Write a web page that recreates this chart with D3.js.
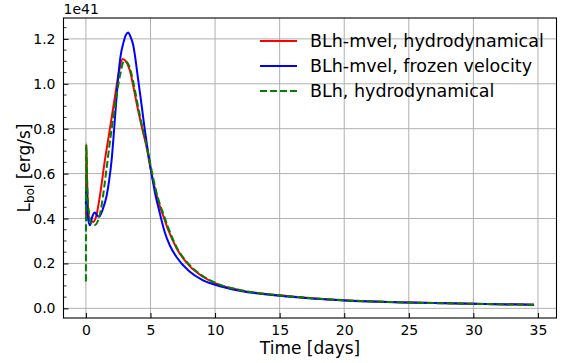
<!DOCTYPE html>
<html>
<head>
<meta charset="utf-8">
<script src="https://cdn.jsdelivr.net/npm/d3@7"></script>
<style>
  body { margin: 0; background: #fff; }
  text { font-family: "DejaVu Sans", sans-serif; fill: #000; }
</style>
</head>
<body>
<svg id="chart" width="564" height="363"></svg>
<script>
const width = 564
const height = 363
const margin = { top: 18, right: 7.5, bottom: 45, left: 63.5 }

// BLh-mvel, hydrodynamical (red)
const redT = [0, 0.03, 0.1, 0.2, 0.35, 0.56, 0.8, 1.08, 1.47, 1.86, 2.24, 2.55, 2.84, 3.1, 3.4, 3.7, 4.05, 4.4, 4.69, 5.08, 5.4, 5.72, 6.0, 6.37, 7.0, 8.0, 9.0, 10, 12, 15, 17.5, 20, 25, 30, 34.7]
const redL = [0.40, 0.73, 0.55, 0.42, 0.39, 0.385, 0.41, 0.50, 0.66, 0.80, 0.94, 1.05, 1.11, 1.10, 1.06, 0.98, 0.88, 0.79, 0.72, 0.60, 0.52, 0.455, 0.41, 0.35, 0.27, 0.19, 0.143, 0.112, 0.080, 0.058, 0.045, 0.036, 0.026, 0.020, 0.016]

// BLh-mvel, frozen velocity (blue)
const blueT = [0, 0.03, 0.12, 0.31, 0.5, 0.7, 0.85, 1.03, 1.3, 1.6, 1.8, 1.99, 2.24, 2.5, 2.7, 2.89, 3.1, 3.27, 3.45, 3.66, 4.05, 4.3, 4.56, 4.8, 5.08, 5.4, 5.72, 6.1, 6.5, 7.0, 8.0, 9.0, 10, 12, 15, 17.5, 20, 25, 30, 34.7]
const blueL = [0.46, 0.55, 0.42, 0.37, 0.41, 0.427, 0.415, 0.408, 0.44, 0.50, 0.57, 0.66, 0.84, 1.03, 1.13, 1.18, 1.218, 1.228, 1.21, 1.173, 1.017, 0.91, 0.795, 0.70, 0.60, 0.50, 0.424, 0.34, 0.28, 0.23, 0.165, 0.127, 0.105, 0.077, 0.056, 0.044, 0.035, 0.026, 0.020, 0.016]

// BLh, hydrodynamical (green dashed)
const greenT = [0, 0.02, 0.1, 0.25, 0.45, 0.65, 1.0, 1.25, 1.55, 1.9, 2.3, 2.65, 2.95, 3.2, 3.5, 3.8, 4.1, 4.4, 4.75, 5.1, 5.4, 5.75, 6.0, 6.4, 7.0, 8.0, 9.0, 10, 12, 15, 17.5, 20, 25, 30, 34.7]
const greenL = [0.12, 0.73, 0.55, 0.42, 0.375, 0.37, 0.40, 0.47, 0.60, 0.76, 0.92, 1.04, 1.10, 1.095, 1.05, 0.97, 0.88, 0.80, 0.71, 0.61, 0.53, 0.46, 0.42, 0.355, 0.275, 0.195, 0.146, 0.114, 0.081, 0.058, 0.045, 0.036, 0.026, 0.020, 0.016]

const xTicks = [0, 5, 10, 15, 20, 25, 30, 35]
const yTicks = [0.0, 0.2, 0.4, 0.6, 0.8, 1.0, 1.2]
const legendLabels = ['BLh-mvel, hydrodynamical', 'BLh-mvel, frozen velocity', 'BLh, hydrodynamical']

const series = [
    { t: redT, l: redL, color: '#ff0000', dash: null },
    { t: blueT, l: blueL, color: '#0000ff', dash: null },
    { t: greenT, l: greenL, color: '#008000', dash: '7,3' }
]

const x = d3.scaleLinear().domain([-1.735, 36.435]).range([margin.left, width - margin.right])
const y = d3.scaleLinear().domain([-0.043, 1.293]).range([height - margin.bottom, margin.top])

const svg = d3.select('#chart')

// grid
svg.append('g')
    .selectAll('line')
    .data(xTicks)
    .join('line')
    .attr('x1', d => x(d)).attr('x2', d => x(d))
    .attr('y1', margin.top).attr('y2', height - margin.bottom)
    .attr('stroke', '#b0b0b0').attr('stroke-width', 1)

svg.append('g')
    .selectAll('line')
    .data(yTicks)
    .join('line')
    .attr('x1', margin.left).attr('x2', width - margin.right)
    .attr('y1', d => y(d)).attr('y2', d => y(d))
    .attr('stroke', '#b0b0b0').attr('stroke-width', 1)

// curves
const line = d3.line()
    .curve(d3.curveMonotoneX)
    .x(d => x(d[0]))
    .y(d => y(d[1]))

const plot = svg.append('g')
series.forEach(s => {
    plot.append('path')
        .datum(d3.zip(s.t, s.l))
        .attr('d', line)
        .attr('fill', 'none')
        .attr('stroke', s.color)
        .attr('stroke-width', 2)
        .attr('stroke-dasharray', s.dash)
})

// axes
const xAxis = svg.append('g')
    .attr('transform', `translate(0,${height - margin.bottom})`)
    .call(d3.axisBottom(x).tickValues(xTicks).tickSizeInner(-5).tickSizeOuter(0).tickPadding(7).tickFormat(d3.format('d')))
xAxis.select('.domain').remove()
xAxis.selectAll('text').style('font-size', '14px').style('font-family', 'DejaVu Sans')

const yAxis = svg.append('g')
    .attr('transform', `translate(${margin.left},0)`)
    .call(d3.axisLeft(y).tickValues(yTicks).tickSizeInner(-5).tickSizeOuter(0).tickPadding(8).tickFormat(d3.format('.1f')))
yAxis.select('.domain').remove()
yAxis.selectAll('text').style('font-size', '14px').style('font-family', 'DejaVu Sans')

const minorTicks = d3.range(0, 1.2901, 0.05).filter(v => Math.abs(v * 5 - Math.round(v * 5)) > 1e-6)
svg.append('g')
    .selectAll('line')
    .data(minorTicks)
    .join('line')
    .attr('x1', margin.left).attr('x2', margin.left + 3)
    .attr('y1', d => y(d)).attr('y2', d => y(d))
    .attr('stroke', '#000').attr('stroke-width', 0.8)

svg.append('rect')
    .attr('x', margin.left).attr('y', margin.top)
    .attr('width', width - margin.right - margin.left)
    .attr('height', height - margin.bottom - margin.top)
    .attr('fill', 'none').attr('stroke', '#000').attr('stroke-width', 1.1)

// offset text
svg.append('text')
    .attr('x', margin.left).attr('y', 14)
    .style('font-size', '14px')
    .text('1e41')

// labels
svg.append('text')
    .attr('x', (margin.left + width - margin.right) / 2)
    .attr('y', 354)
    .attr('text-anchor', 'middle')
    .style('font-size', '17px')
    .text('Time [days]')

const yl = svg.append('text')
    .attr('transform', `translate(30,${(margin.top + height - margin.bottom) / 2}) rotate(-90)`)
    .attr('text-anchor', 'middle')
    .style('font-size', '17px')
yl.append('tspan').text('L')
yl.append('tspan').attr('dy', 4).style('font-size', '12px').text('bol')
yl.append('tspan').attr('dy', -4).text(' [erg/s]')

// legend
const legend = svg.append('g')
legendLabels.forEach((lab, i) => {
    const ly = 41 + i * 25
    legend.append('line')
        .attr('x1', 260).attr('x2', 297)
        .attr('y1', ly).attr('y2', ly)
        .attr('stroke', series[i].color)
        .attr('stroke-width', 2)
        .attr('stroke-dasharray', series[i].dash)
    legend.append('text')
        .attr('x', 310).attr('y', ly + 6)
        .style('font-size', '17.5px')
        .text(lab)
})
</script>
</body>
</html>
